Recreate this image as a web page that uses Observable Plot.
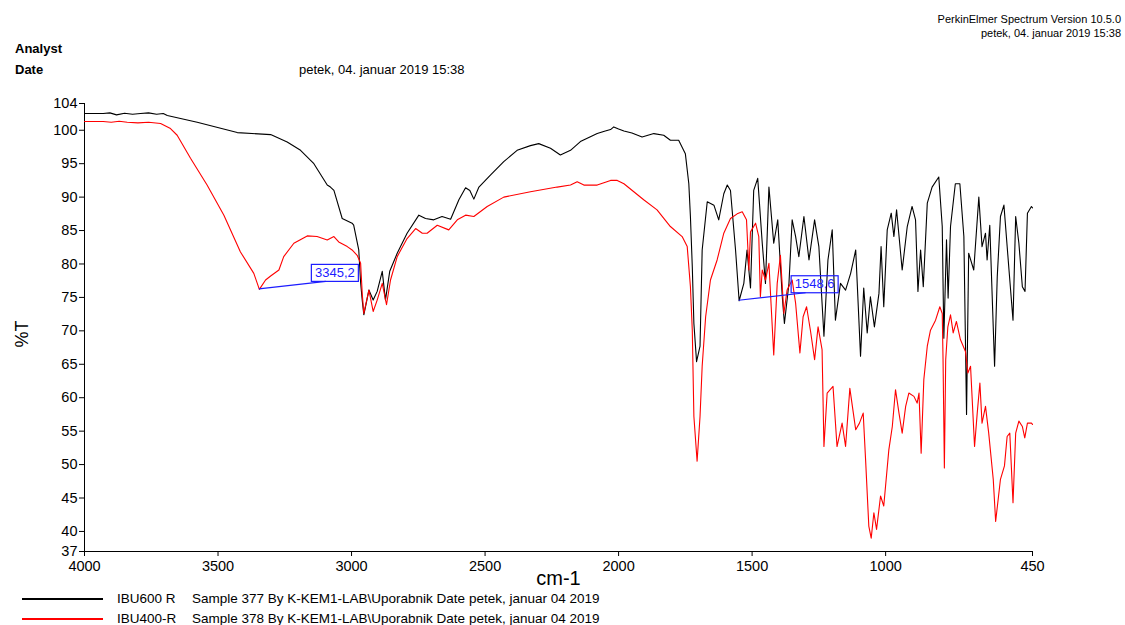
<!DOCTYPE html>
<html>
<head>
<meta charset="utf-8">
<title>IR spectrum IBU600 R / IBU400-R</title>
<script src="https://cdn.jsdelivr.net/npm/d3@7"></script>
<script src="https://cdn.jsdelivr.net/npm/@observablehq/plot@0.6"></script>
<style>
  body { margin: 0; background: #fff; font-family: "Liberation Sans", Arial, sans-serif; color: #000; }
  #page { position: relative; width: 1125px; height: 625px; overflow: hidden; }
  #chart { position: absolute; left: 0; top: 0; }
  .txt { position: absolute; white-space: nowrap; line-height: 1; }
  #software { right: 4px; top: 12px; font-size: 11px; text-align: right; line-height: 14px; }
  .hdr { font-size: 13px; }
  .bold { font-weight: bold; }
  .legend-row { position: absolute; left: 0; height: 20px; width: 700px; }
  .swatch { position: absolute; left: 22px; width: 81px; height: 2px; top: 9px; }
  .legend-name { position: absolute; left: 117px; top: 3px; font-size: 13.5px; }
  .legend-info { position: absolute; left: 192px; top: 3px; font-size: 13.5px; }
</style>
</head>
<body>
<div id="page">
  <div id="chart"></div>
  <div id="software" class="txt"></div>
  <div class="txt hdr bold" style="left:15px; top:42px;">Analyst</div>
  <div class="txt hdr bold" style="left:15px; top:63px;">Date</div>
  <div id="date" class="txt hdr" style="left:299px; top:63px;"></div>
  <div id="legend"></div>
</div>
<script>
// Header strings
const softwareLines = ["PerkinElmer Spectrum Version 10.5.0", "petek, 04. januar 2019 15:38"];
const measuredOn = "petek, 04. januar 2019 15:38";

// Series names, sample descriptions and colours
const seriesNames = ["IBU600 R", "IBU400-R"];
const seriesInfo = [
  "Sample 377 By K-KEM1-LAB\\Uporabnik Date petek, januar 04 2019",
  "Sample 378 By K-KEM1-LAB\\Uporabnik Date petek, januar 04 2019"
];
const seriesColors = ["#000000", "#ff0000"];

// Axis ticks
const xTickValues = [4000, 3500, 3000, 2500, 2000, 1500, 1000, 450];
const yTickValues = [104, 100, 95, 90, 85, 80, 75, 70, 65, 60, 55, 50, 45, 40, 37];

// Spectrum IBU600 R: [wavenumber cm-1, %T]
const ibu600 = [
  [4000, 102.5], [3930, 102.5], [3905, 102.6], [3880, 102.3], [3850, 102.55], [3820, 102.4],
  [3790, 102.5], [3760, 102.6], [3730, 102.4], [3705, 102.5], [3690, 102.2], [3578, 101.2],
  [3428, 99.65], [3303, 99.35], [3241, 98.25], [3191, 97.0], [3141, 95.0], [3091, 91.8],
  [3079, 91.5], [3066, 91.0], [3035, 86.8], [2998, 86.1], [2992, 85.8], [2973, 82.1],
  [2966, 77.2], [2960, 74.6], [2954, 72.4], [2935, 76.1], [2919, 74.6], [2904, 75.9],
  [2885, 78.9], [2873, 74.6], [2857, 78.9], [2829, 81.6], [2792, 84.6], [2748, 87.3],
  [2723, 86.8], [2692, 86.6], [2661, 87.1], [2629, 86.7], [2598, 89.6], [2573, 91.4],
  [2557, 91.0], [2542, 89.7], [2523, 91.5], [2480, 93.3], [2430, 95.3], [2380, 97.0],
  [2330, 97.7], [2299, 98.0], [2255, 97.3], [2218, 96.3], [2180, 97.0], [2143, 98.3],
  [2080, 99.5], [2050, 99.9], [2030, 100.1], [2018, 100.5], [2000, 100.2], [1980, 99.9],
  [1950, 99.6], [1912, 99.0], [1868, 99.5], [1831, 99.25], [1806, 98.5], [1775, 98.5],
  [1750, 96.5], [1737, 92.0], [1731, 87.1], [1724, 79.6], [1718, 71.1], [1708, 65.4],
  [1695, 67.7], [1687, 82.1], [1668, 89.3], [1643, 88.8], [1625, 86.6], [1606, 90.5],
  [1593, 91.8], [1581, 91.0], [1562, 82.1], [1548.6, 74.5], [1531, 77.1], [1519, 82.1],
  [1506, 76.4], [1494, 91.0], [1479, 92.8], [1462, 83.1], [1450, 77.1], [1437, 91.5],
  [1419, 83.1], [1404, 86.6], [1387, 75.1], [1379, 71.1], [1362, 77.1], [1350, 86.6],
  [1337, 84.1], [1325, 81.1], [1306, 87.1], [1287, 80.6], [1266, 86.6], [1250, 82.6],
  [1231, 69.2], [1216, 80.6], [1200, 85.1], [1188, 71.6], [1169, 77.1], [1150, 76.1],
  [1131, 78.6], [1112, 82.1], [1094, 66.2], [1082, 76.4], [1069, 69.7], [1057, 75.1],
  [1042, 70.6], [1025, 75.6], [1017, 82.6], [1007, 73.6], [994, 85.1], [979, 87.6],
  [969, 84.1], [959, 88.1], [938, 79.1], [919, 85.6], [901, 88.6], [888, 86.6],
  [879, 75.9], [869, 82.1], [859, 76.6], [844, 89.1], [826, 91.5], [801, 93.0],
  [788, 85.6], [782, 68.9], [772, 83.6], [766, 74.9], [757, 85.6], [739, 92.0],
  [722, 92.0], [707, 84.1], [697, 57.5], [689, 81.6], [670, 79.1], [651, 90.0],
  [639, 82.6], [626, 84.6], [620, 80.6], [610, 85.8], [592, 64.7], [582, 78.1],
  [570, 87.1], [557, 88.8], [538, 79.1], [523, 71.6], [513, 87.1], [501, 83.1],
  [488, 76.6], [478, 75.9], [469, 87.6], [454, 88.6], [450, 88.4]
];

// Spectrum IBU400-R: [wavenumber cm-1, %T]
const ibu400 = [
  [4000, 101.3], [3930, 101.3], [3900, 101.2], [3870, 101.35], [3840, 101.2], [3800, 101.1],
  [3760, 101.2], [3715, 101.0], [3678, 100.25], [3653, 99.25], [3603, 95.8], [3541, 91.8],
  [3478, 87.3], [3416, 81.8], [3366, 78.6], [3345.2, 76.2], [3322, 77.6], [3303, 78.2],
  [3272, 79.1], [3254, 81.1], [3216, 83.1], [3166, 84.2], [3129, 84.1], [3091, 83.6],
  [3066, 84.1], [3048, 83.3], [3016, 82.6], [2998, 82.1], [2979, 81.3], [2966, 80.1],
  [2960, 75.6], [2954, 72.6], [2935, 76.1], [2919, 72.9], [2904, 74.6], [2885, 77.1],
  [2869, 73.9], [2854, 77.6], [2829, 81.1], [2792, 83.8], [2760, 85.3], [2735, 84.6],
  [2717, 84.6], [2679, 85.8], [2636, 85.1], [2604, 86.6], [2573, 87.3], [2542, 87.1],
  [2492, 88.6], [2430, 90.0], [2330, 90.8], [2230, 91.5], [2180, 91.8], [2155, 92.3],
  [2130, 91.8], [2080, 91.8], [2030, 92.5], [2005, 92.5], [1980, 92.0], [1943, 90.8],
  [1906, 89.6], [1856, 88.1], [1806, 85.6], [1762, 84.1], [1743, 82.6], [1731, 76.6],
  [1724, 70.1], [1718, 57.2], [1706, 50.5], [1695, 57.2], [1687, 64.7], [1674, 72.1],
  [1656, 77.6], [1631, 80.6], [1606, 84.6], [1581, 86.8], [1556, 87.5], [1537, 87.8],
  [1521, 86.6], [1512, 79.1], [1506, 84.8], [1487, 86.1], [1475, 84.1], [1469, 75.1],
  [1462, 79.1], [1450, 77.6], [1437, 80.1], [1419, 66.4], [1406, 77.1], [1394, 81.3],
  [1381, 72.6], [1369, 76.1], [1350, 77.6], [1337, 74.1], [1321, 66.7], [1309, 72.1],
  [1296, 73.6], [1281, 69.9], [1266, 65.7], [1253, 70.6], [1238, 67.2], [1231, 52.7],
  [1219, 60.7], [1197, 61.7], [1182, 52.7], [1163, 56.2], [1150, 52.7], [1134, 61.4],
  [1112, 55.2], [1098, 56.2], [1084, 57.7], [1075, 50.7], [1063, 40.8], [1054, 39.0],
  [1044, 42.8], [1034, 40.3], [1019, 45.3], [1007, 43.8], [988, 52.2], [975, 55.7],
  [963, 61.2], [950, 57.7], [938, 54.7], [925, 58.7], [913, 60.7], [894, 60.2],
  [882, 59.2], [875, 60.7], [867, 51.7], [857, 62.7], [844, 67.7], [832, 70.1],
  [813, 71.6], [797, 73.6], [788, 72.6], [785, 65.7], [780, 49.5], [775, 65.7],
  [767, 70.6], [757, 72.4], [747, 69.7], [735, 71.4], [720, 68.7], [701, 66.9],
  [692, 63.7], [682, 64.7], [667, 52.7], [657, 57.7], [647, 62.2], [639, 56.2],
  [626, 58.7], [614, 54.7], [597, 47.8], [588, 41.5], [580, 44.3], [570, 47.8],
  [555, 49.8], [545, 54.2], [535, 54.7], [523, 44.3], [513, 54.7], [501, 56.5],
  [488, 55.7], [479, 54.0], [469, 56.2], [454, 56.2], [450, 56.0]
];

// Picked peaks: wavenumber and %T of the series point they mark
const peakWn = [3345.2, 1548.6];
const peakT = [76.2, 74.5];

const rows = [
  ...ibu600.map(([wn, t]) => ({series: seriesNames[0], wn, t})),
  ...ibu400.map(([wn, t]) => ({series: seriesNames[1], wn, t}))
];

const fontFamily = "'Liberation Sans', Arial, sans-serif";
const peakBlue = "#1c1cff";

// Width of a label string, for sizing the peak boxes
const measureCtx = document.createElement("canvas").getContext("2d");
function textWidth(str, font) {
  measureCtx.font = font;
  return measureCtx.measureText(str).width;
}

// Peak pick marker: leader from the peak to a boxed wavenumber label
function peakPicks(index, scales) {
  const g = d3.create("svg:g");
  const font = `13px ${fontFamily}`;
  peakWn.forEach((wn, i) => {
    const px = scales.x(wn);
    const py = scales.y(peakT[i]);
    const label = wn.toFixed(1).replace(".", ",");
    const w = Math.round(textWidth(label, font)) + 7;
    const h = 17;
    const bx = px + 52;
    const by = py - 8 - h;
    g.append("line")
      .attr("x1", px).attr("y1", py)
      .attr("x2", px + 67).attr("y2", py - 7.5)
      .attr("stroke", peakBlue).attr("stroke-width", 1.2);
    g.append("rect")
      .attr("x", bx + 0.5).attr("y", by + 0.5)
      .attr("width", w).attr("height", h)
      .attr("fill", "none").attr("stroke", peakBlue).attr("stroke-width", 1.2);
    g.append("text")
      .attr("x", bx + 0.5 + w / 2).attr("y", by + h / 2 + 1)
      .attr("text-anchor", "middle").attr("dominant-baseline", "middle")
      .attr("fill", peakBlue).attr("font-size", 13).attr("font-family", fontFamily)
      .text(label);
  });
  return g.node();
}

const chart = Plot.plot({
  width: 1125,
  height: 625,
  marginTop: 103,
  marginBottom: 74,
  marginLeft: 84,
  marginRight: 93,
  style: {fontFamily, fontSize: "14.5px", color: "#000", background: "transparent", overflow: "visible"},
  x: {domain: [4000, 450], label: null},
  y: {domain: [37, 104], label: null},
  color: {domain: seriesNames, range: seriesColors},
  marks: [
    Plot.axisX({ticks: xTickValues, tickSize: 5, tickPadding: 4, tickFormat: d => String(d), label: null, stroke: "#000"}),
    Plot.axisY({ticks: yTickValues, tickSize: 5, tickPadding: 2, tickFormat: d => String(d), label: null, stroke: "#000"}),
    Plot.ruleX([4000], {stroke: "#000"}),
    Plot.ruleY([37], {stroke: "#000"}),
    Plot.line(rows, {x: "wn", y: "t", z: "series", stroke: "series", strokeWidth: 1.1}),
    peakPicks,
    Plot.text(["cm-1"], {frameAnchor: "bottom", dy: 33, fontSize: 20, text: d => d}),
    Plot.text(["%T"], {frameAnchor: "left", dx: -62, dy: 20, rotate: -90, fontSize: 18, text: d => d})
  ]
});
document.getElementById("chart").append(chart);

// Header and legend text
document.getElementById("software").innerHTML = softwareLines.join("<br>");
document.getElementById("date").textContent = measuredOn;

const legend = document.getElementById("legend");
seriesNames.forEach((name, i) => {
  const row = document.createElement("div");
  row.className = "legend-row";
  row.style.top = (589 + i * 20) + "px";
  const sw = document.createElement("div");
  sw.className = "swatch";
  sw.style.background = seriesColors[i];
  const nm = document.createElement("div");
  nm.className = "txt legend-name";
  nm.textContent = name;
  const info = document.createElement("div");
  info.className = "txt legend-info";
  info.textContent = seriesInfo[i];
  row.append(sw, nm, info);
  legend.append(row);
});
</script>
</body>
</html>
